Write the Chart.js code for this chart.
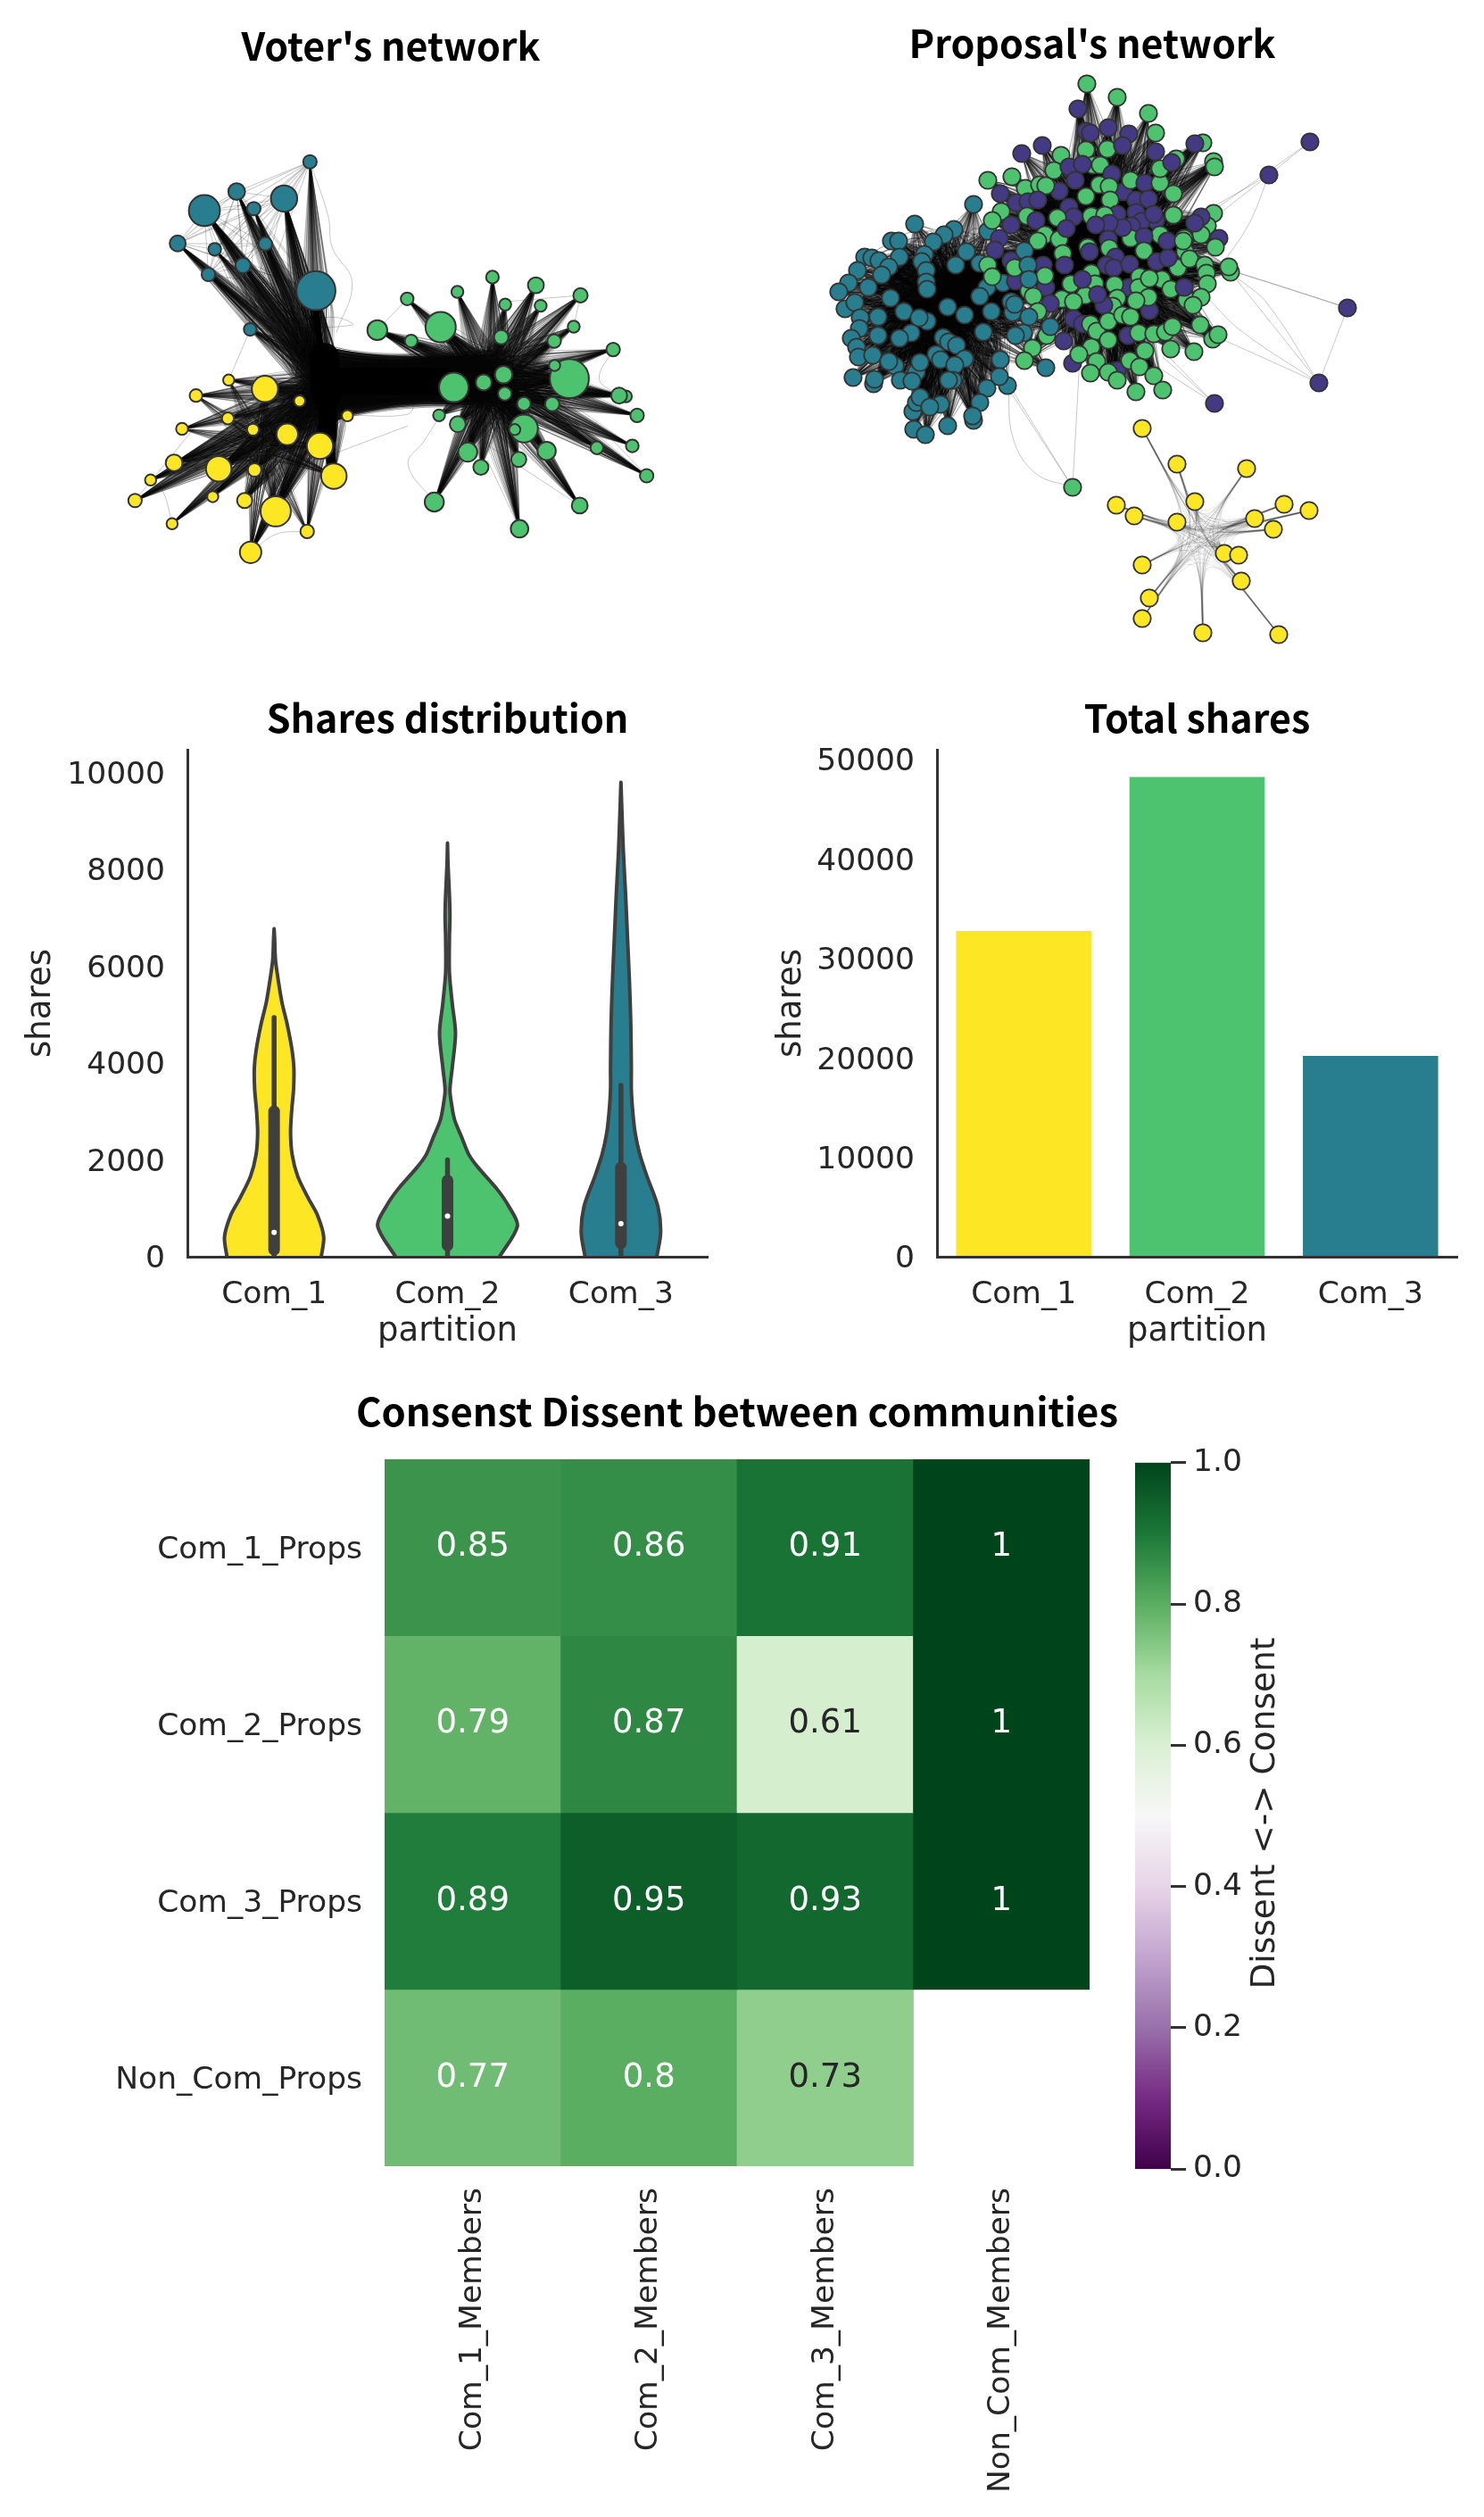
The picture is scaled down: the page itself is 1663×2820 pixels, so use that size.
<!DOCTYPE html>
<html>
<head>
<meta charset="utf-8">
<title>Communities</title>
<script src="https://cdn.jsdelivr.net/npm/chart.js@4"></script>
<style>
  html, body { margin: 0; background: #fff; }
  body { position: relative; width: 1663px; height: 2820px; overflow: hidden; }
  canvas { position: absolute; }
</style>
</head>
<body>
<canvas id="voterNet" style="left:100px;top:0" width="676" height="680"></canvas>
<canvas id="propNet" style="left:900px;top:0" width="648" height="740"></canvas>
<canvas id="violin" style="left:0;top:760px" width="800" height="760"></canvas>
<canvas id="bars" style="left:830px;top:760px" width="811" height="760"></canvas>
<canvas id="heat" style="left:100px;top:1540px" width="1452" height="1280"></canvas>
<canvas id="cbar" style="left:1272px;top:1610px" width="208" height="849"></canvas>

<script>
// ---- data ----
const partitions = ["Com_1", "Com_2", "Com_3"];
const totalShares = [32760, 48250, 20190];
const violinTicks = [0, 2000, 4000, 6000, 8000, 10000];
const totalTicks = [0, 10000, 20000, 30000, 40000, 50000];
const cbarTicks = [0, 0.2, 0.4, 0.6, 0.8, 1];

const violinShares = [
  [0, 411, 858, 1215, 1662, 2109, 2556, 3003, 3450, 3897, 4254, 4790, 5237, 5684, 6131, 6578, 6774],
  [0, 635, 1037, 1394, 1841, 2109, 2467, 2824, 3182, 3450, 3897, 4612, 5237, 5863, 6578, 7024, 7471, 8097, 8544],
  [0, 500, 1037, 1662, 2109, 2556, 3003, 3450, 3897, 4790, 5684, 6578, 7471, 8365, 9259, 9795]
];
const violinDensity = [
  [.272, .286, .25, .196, .136, .104, .095, .101, .112, .114, .104, .076, .046, .025, .008, .003, 0],
  [.3, .403, .354, .286, .177, .123, .082, .041, .022, .014, .027, .046, .027, .011, .011, .014, .011, .003, 0],
  [.207, .229, .213, .15, .109, .082, .068, .06, .06, .057, .049, .038, .027, .014, .005, 0]
];
const whiskers = [[0, 4942], [0, 2000], [0, 3540]];
const quartiles = [[143, 3003], [232, 1573], [277, 1841]];
const medians = [500, 840, 680];

const heatRowLabels = ["Com_1_Props", "Com_2_Props", "Com_3_Props", "Non_Com_Props"];
const heatColLabels = ["Com_1_Members", "Com_2_Members", "Com_3_Members", "Non_Com_Members"];
const heatValues = [
  [0.85, 0.86, 0.91, 1],
  [0.79, 0.87, 0.61, 1],
  [0.89, 0.95, 0.93, 1],
  [0.77, 0.8, 0.73, null]
];

// voter layout: x, y, size
const voterCom3 = [[554,418,17],[370,495,21],[489,513,33],[289,544,39],[413,539,17],[222,629,20],[315,644,16],[442,630,17],[386,686,19],[299,709,17],[569,751,49],[404,851,16]];
const voterCom2 = [[798,772,16],[924,754,15],[1012,716,16],[1121,737,20],[1044,787,15],[1133,790,15],[1233,763,18],[1216,844,15],[723,853,25],[808,881,16],[882,845,38],[1034,871,18],[1167,881,17],[1315,903,17],[1205,978,49],[1168,944,14],[915,1001,37],[990,988,20],[1040,968,22],[1043,1017,17],[1347,1024,15],[1330,1022,20],[1091,1043,17],[1162,1044,18],[1375,1073,17],[878,1073,15],[925,1096,20],[1091,1107,35],[1068,1110,14],[950,1168,24],[1148,1165,23],[1078,1187,19],[983,1207,19],[1274,1157,16],[1363,1152,16],[1399,1229,17],[866,1297,24],[1231,1306,20],[1080,1366,22]];
const voterCom1 = [[350,982,14],[441,1005,33],[268,1022,16],[528,1036,14],[648,1074,14],[348,1081,15],[411,1110,15],[233,1108,15],[497,1122,27],[579,1152,33],[213,1196,21],[325,1211,32],[415,1214,17],[614,1230,32],[154,1240,14],[115,1293,17],[310,1283,14],[390,1293,19],[468,1321,38],[208,1353,14],[547,1373,17],[405,1427,27]];
const voterHubs = { com1: [600, 1020], com2: [1020, 985], com3: [585, 950], com1Inner: [440, 1140] };
// the heaviest bundles, with their stroke weight
const voterStems = [[[600,985],[890,985]], [[590,925],[595,1015]], [[600,1000],[598,1130]], [[598,1100],[608,1205]], [[569,800],[578,880],[590,940]]];
const voterStemWeights = [30, 34, 20, 11, 7];
const voterThinEdges = [
  [[650,1073],[800,1070],[810,1040],[700,1030]], [[620,1170],[800,1100]], [[866,1297],[800,1200],[840,1140],[880,1075]],
  [[866,1297],[925,1180]], [[1231,1306],[1000,1150]], [[1080,1366],[1030,1120]], [[1080,1366],[1000,1190]],
  [[1399,1229],[1170,1100]], [[1399,1229],[1270,1090]], [[1363,1152],[1100,1000]],
  [[554,418],[600,560],[610,640],[660,730],[620,860]], [[554,418],[570,700]], [[404,851],[660,840],[620,820],[500,830]],
  [[350,982],[404,851]], [[115,1293],[268,1100]], [[208,1353],[185,1270],[154,1240]], [[547,1373],[470,1380],[405,1427]],
  [[1233,763],[1040,780]], [[1315,903],[1280,980],[1330,1020]], [[1233,763],[1216,844]], [[798,772],[882,845]], [[798,772],[723,853]]
];

// proposal layout: x, y
const propTeal = [[1091,229],[1025,251],[1069,257],[1058,263],[1046,271],[999,270],[1007,270],[969,288],[977,289],[985,292],[1008,288],[1036,285],[1083,282],[1033,293],[996,299],[988,308],[961,303],[1071,297],[1098,295],[1107,259],[1038,303],[1038,316],[1039,324],[951,317],[940,327],[973,322],[1106,322],[1124,317],[1098,332],[998,334],[947,346],[958,339],[1062,344],[1013,349],[1081,353],[1111,349],[1039,360],[1030,356],[964,356],[984,355],[963,368],[1102,372],[984,376],[1021,373],[1008,379],[954,379],[1057,378],[1063,383],[1072,387],[960,389],[962,400],[978,398],[1003,410],[996,405],[1049,397],[1054,403],[1081,402],[1070,409],[1027,417],[1031,406],[1121,403],[1129,432],[1120,422],[956,423],[979,430],[980,425],[1009,426],[1022,427],[1068,426],[1063,426],[1106,435],[1023,461],[1027,451],[1031,445],[1054,453],[1042,456],[1098,451],[1091,471],[1090,466],[1062,477],[1024,481],[1037,487]];
const propTealTop = [[1148,281],[1152,297],[1153,313],[1133,338],[1135,350],[1137,341],[1153,355],[1147,373],[1138,376],[1177,366],[1172,412]];
const propGreen = [[1218,94],[1252,109],[1287,127],[1295,149],[1217,168],[1241,167],[1189,174],[1225,185],[1233,185],[1181,191],[1134,198],[1107,202],[1149,211],[1165,207],[1172,208],[1217,220],[1267,202],[1232,207],[1243,209],[1244,224],[1300,205],[1300,189],[1122,237],[1112,247],[1151,242],[1185,244],[1223,242],[1238,241],[1171,263],[1163,270],[1187,268],[1267,267],[1300,263],[1348,160],[1360,181],[1361,187],[1318,178],[1315,217],[1315,241],[1360,239],[1353,253],[1346,263],[1327,267],[1191,284],[1219,277],[1243,278],[1282,281],[1328,282],[1320,300],[1302,313],[1312,324],[1330,336],[1223,306],[1227,318],[1200,318],[1216,331],[1190,335],[1203,338],[1249,319],[1252,334],[1247,343],[1277,310],[1276,322],[1288,312],[1287,333],[1273,337],[1137,300],[1171,309],[1153,326],[1158,332],[1163,349],[1222,363],[1229,371],[1242,360],[1258,353],[1267,355],[1276,373],[1293,374],[1306,372],[1314,366],[1312,391],[1242,381],[1223,389],[1209,397],[1283,393],[1266,404],[1277,411],[1293,421],[1303,437],[1273,439],[1229,405],[1222,418],[1242,417],[1252,426],[1157,390],[1148,404],[1173,376],[1326,270],[1362,277],[1333,290],[1350,297],[1352,306],[1379,305],[1377,299],[1353,318],[1346,333],[1337,342],[1345,364],[1359,380],[1365,375],[1338,394],[1107,297],[1112,310]];
const propPurple = [[1208,122],[1242,143],[1217,147],[1222,149],[1265,150],[1168,163],[1145,172],[1258,163],[1295,170],[1198,187],[1213,184],[1205,202],[1246,195],[1187,214],[1121,217],[1259,215],[1283,205],[1139,227],[1152,226],[1163,224],[1273,224],[1287,223],[1198,232],[1203,243],[1133,252],[1161,247],[1252,240],[1273,238],[1295,247],[1279,248],[1268,253],[1258,255],[1243,250],[1228,252],[1195,256],[1120,267],[1282,265],[1242,268],[1339,161],[1313,182],[1293,240],[1346,243],[1339,250],[1366,267],[1221,282],[1250,288],[1240,297],[1248,300],[1266,296],[1296,293],[1309,289],[1169,297],[1193,297],[1133,292],[1138,315],[1172,322],[1213,313],[1265,322],[1288,348],[1327,322],[1237,342],[1203,357],[1177,340],[1264,376],[1192,382],[1202,407],[1252,415],[1213,363],[1230,330],[1308,270],[1115,280]];
const propFarPurple = [[1468,159],[1422,196],[1510,345],[1478,429],[1361,452]];
const propFarGreen = [[1202,546]];
const propYellow = [[1280,480],[1319,520],[1397,525],[1251,566],[1271,578],[1339,562],[1319,585],[1439,565],[1467,572],[1406,581],[1427,593],[1372,620],[1388,622],[1280,633],[1391,651],[1288,670],[1280,693],[1348,709],[1433,711]];
const propHubs = { teal: [1066, 325], main: [1230, 285], yellow: [1345, 600] };
const propThinEdges = [
  [[1468,159],[1422,196]], [[1468,159],[1340,250]], [[1422,196],[1330,268]], [[1422,196],[1345,240]], [[1422,196],[1400,250],[1372,293]],
  [[1510,345],[1379,303]], [[1510,345],[1440,322],[1379,303]], [[1510,345],[1478,429]], [[1478,429],[1379,305]],
  [[1478,429],[1420,340],[1385,310]], [[1478,429],[1390,370],[1350,330]], [[1478,429],[1365,378]],
  [[1361,452],[1310,400]], [[1361,452],[1303,400]], [[1361,452],[1280,400]],
  [[1202,546],[1160,530],[1135,490],[1130,430]], [[1202,546],[1130,430]], [[1202,546],[1120,420]], [[1202,546],[1210,400]]
];
const partnerOffsets = [3, 5, 7, 11, 13, 17, 23, 29, 37, 41, 53, 61, 71, 83, 97, 109, 131, 149, 167, 191, 211, 239, 277, 307];

// ---- colours and fonts ----
const YELLOW = "#fde725", GREEN = "#4ec36f", TEAL = "#287d8e", PURPLE = "#443983";
const INK = "#262626", SPINE = "#333333", VIOLIN_LINE = "#3f3f3f";
const TICK_FONT = { family: "DejaVu Sans", size: 34.5 };
// same font, used with a blank first line to sit the label a few px lower on its tick
const LOW_TICK_FONT = { family: "DejaVu Sans", size: 34.5, lineHeight: .2 };
const LABEL_FONT = { family: "DejaVu Sans", size: 37 };
const TITLE_FONT = { family: "Noto Sans CJK JP", size: 43, weight: "700" };
const PRGN = ["#40004b", "#762a83", "#9970ab", "#c2a5cf", "#e7d4e8", "#f7f7f7", "#d9f0d3", "#a6dba0", "#5aae61", "#1b7837", "#00441b"];

function prgn(v) {
  let pos = v * (PRGN.length - 1);
  let i = Math.min(Math.floor(pos), PRGN.length - 2);
  let t = pos - i;
  let a = PRGN[i], b = PRGN[i + 1];
  let ch = (c, k) => parseInt(c.substr(1 + k * 2, 2), 16);
  return "rgb(" + [0, 1, 2].map(k => Math.round(ch(a, k) + (ch(b, k) - ch(a, k)) * t)).join(",") + ")";
}

function baseOptions() {
  return {
    responsive: false,
    devicePixelRatio: 1,
    animation: false,
    events: [],
    layout: { autoPadding: false, padding: 0 },
    plugins: { legend: { display: false }, tooltip: { enabled: false } }
  };
}

function titleOpts(text, top, bottom) {
  return { display: true, text: text, color: "#000", font: TITLE_FONT, fullSize: false, padding: { top: top, bottom: bottom } };
}

// ---- network edges ----
function mix(h, a, ka, b, kb) {
  return { x: h[0] + (a[0] - h[0]) * ka + b[0] * kb, y: h[1] + (a[1] - h[1]) * ka + b[1] * kb };
}
function pt(a) { return { x: a[0], y: a[1] }; }

// route an edge a-b through the bundle hubs of the two nodes
function bundled(a, ha, b, hb, near, far, fanNear, fanFar) {
  let da = [a[0] - ha[0], a[1] - ha[1]], db = [b[0] - hb[0], b[1] - hb[1]];
  if (ha === hb) {
    return [pt(a), mix(ha, a, near, db, fanNear), mix(hb, b, near, da, fanNear), pt(b)];
  }
  return [pt(a), mix(ha, a, near, db, fanNear), mix(ha, a, far, db, fanFar), mix(hb, b, far, da, fanFar), mix(hb, b, near, da, fanNear), pt(b)];
}

function makeLayers(n) {
  let out = [];
  for (let i = 0; i < n; i++) out.push([]);
  return out;
}
function addEdge(layers, path, copies, idx) {
  for (let c = 0; c < copies; c++) {
    let l = layers[(idx + c * 7) % layers.length];
    path.forEach(p => l.push(p));
    l.push({ x: NaN, y: NaN });
  }
}
function edgeDatasets(layers, color, width, tension) {
  return layers.map(data => ({
    data: data, showLine: true, pointRadius: 0, pointHitRadius: 0,
    borderColor: color, borderWidth: width, tension: tension, capBezierPoints: false
  }));
}
function thinDatasets(edges, color, width) {
  return edges.map(e => ({
    data: e.map(pt), showLine: true, pointRadius: 0, pointHitRadius: 0,
    borderColor: color, borderWidth: width, tension: .4
  }));
}

// ---- voter's network ----
(function () {
  let layers = makeLayers(24), n = 0;
  let weight = (a, b) => Math.min(5, Math.max(1, Math.round(a[2] * b[2] / 250)));
  let cross = (as, ha, bs, hb) => as.forEach(a => bs.forEach(b => {
    addEdge(layers, bundled(a, ha, b, hb, .3, .05, .1, .13), weight(a, b), n++);
  }));
  cross(voterCom3, voterHubs.com3, voterCom2, voterHubs.com2);
  cross(voterCom1, voterHubs.com1, voterCom2, voterHubs.com2);
  cross(voterCom3, voterHubs.com3, voterCom1, voterHubs.com1);
  voterCom2.forEach((a, i) => voterCom2.slice(i + 1).forEach(b => {
    addEdge(layers, bundled(a, voterHubs.com2, b, voterHubs.com2, .2, 0, .12, 0), weight(a, b), n++);
  }));
  voterCom1.forEach((a, i) => voterCom1.slice(i + 1).forEach(b => {
    addEdge(layers, bundled(a, voterHubs.com1Inner, b, voterHubs.com1Inner, .2, 0, .12, 0), weight(a, b), n++);
  }));
  voterCom3.forEach((a, i) => voterCom3.slice(i + 1).forEach(b => {
    addEdge(layers, [pt(a), pt(b)], 1, n++);
  }));

  let nodes = voterCom3.concat(voterCom2, voterCom1);
  let colors = voterCom3.map(() => TEAL).concat(voterCom2.map(() => GREEN), voterCom1.map(() => YELLOW));
  let stems = voterStems.map((s, i) => ({
    data: s.map(pt), showLine: true, pointRadius: 0, pointHitRadius: 0,
    borderColor: "#000", borderWidth: voterStemWeights[i], borderCapStyle: "round", tension: .3
  }));
  let opts = baseOptions();
  opts.plugins.title = titleOpts("Voter's network", 26, 2.4);
  opts.scales = {
    x: { type: "linear", display: false, min: 0, max: 1514 },
    y: { type: "linear", display: false, reverse: true, min: 184.5, max: 1568 }
  };
  new Chart(document.getElementById("voterNet"), {
    type: "scatter",
    data: {
      datasets: [{
        data: nodes.map(pt), clip: false,
        pointRadius: nodes.map(v => v[2] / 2.24), pointBackgroundColor: colors,
        pointBorderColor: SPINE, pointBorderWidth: 2
      }].concat(
        stems,
        thinDatasets(voterThinEdges, "rgba(0,0,0,.22)", 1),
        edgeDatasets(layers, "rgba(0,0,0,.2)", 1.1, .35)
      )
    },
    options: opts
  });
})();

// ---- proposal's network ----
(function () {
  let layers = makeLayers(24), yellowLayers = makeLayers(10), n = 0;
  let main = [];
  for (let i = 0; i < Math.max(propGreen.length, propPurple.length); i++) {
    if (propGreen[i]) main.push(propGreen[i]);
    if (propPurple[i]) main.push(propPurple[i]);
  }
  let tealAll = propTeal.concat(propTealTop);
  let linked = tealAll.map(a => [a, propHubs.teal]).concat(main.map(a => [a, propHubs.main]));
  linked.forEach((item, i) => partnerOffsets.forEach(off => {
    let other = linked[(i + off) % linked.length];
    addEdge(layers, bundled(item[0], item[1], other[0], other[1], .35, .15, .28, .15), 1, n++);
  }));
  propYellow.forEach((a, i) => propYellow.slice(i + 1).forEach(b => {
    addEdge(yellowLayers, bundled(a, propHubs.yellow, b, propHubs.yellow, .3, 0, .06, 0), 1, n++);
  }));

  let nodes = propTeal.concat(main, propTealTop, propFarPurple, propFarGreen, propYellow);
  let colorOf = new Map();
  propTeal.concat(propTealTop).forEach(v => colorOf.set(v, TEAL));
  propGreen.concat(propFarGreen).forEach(v => colorOf.set(v, GREEN));
  propPurple.concat(propFarPurple).forEach(v => colorOf.set(v, PURPLE));
  propYellow.forEach(v => colorOf.set(v, YELLOW));

  let opts = baseOptions();
  opts.plugins.title = titleOpts("Proposal's network", 22.8, 1.6);
  opts.scales = {
    x: { type: "linear", display: false, min: 900, max: 1548 },
    y: { type: "linear", display: false, reverse: true, min: 76, max: 740 }
  };
  new Chart(document.getElementById("propNet"), {
    type: "scatter",
    data: {
      datasets: [{
        data: nodes.map(pt), clip: false,
        pointRadius: 9.7, pointBackgroundColor: nodes.map(v => colorOf.get(v)),
        pointBorderColor: SPINE, pointBorderWidth: 1.8
      }].concat(
        thinDatasets(propThinEdges, "rgba(0,0,0,.22)", 1),
        edgeDatasets(yellowLayers, "rgba(0,0,0,.15)", .7, .4),
        edgeDatasets(layers, "rgba(0,0,0,.3)", 1.2, .3)
      )
    },
    options: opts
  });
})();

// ---- shared axis bits for the two share panels ----
function shareAxes(yMax, tickValues, yWidth, yTitlePad) {
  return {
    y: {
      type: "linear", min: 0, max: yMax,
      afterFit: s => { s.width = yWidth; },
      afterBuildTicks: s => { s.ticks = tickValues.map(v => ({ value: v })); },
      grid: { display: false, drawTicks: false },
      border: { display: true, width: 3, color: SPINE, z: 1 },
      ticks: { padding: 25, color: INK, font: LOW_TICK_FONT, callback: v => ["", String(v)] },
      title: { display: true, text: "shares", color: INK, font: LABEL_FONT, padding: { top: yTitlePad, bottom: 0 } }
    }
  };
}
function xAxisBits(s) {
  s.afterFit = a => { a.height = 112; };
  s.grid = { display: false, drawTicks: false };
  s.border = { display: true, width: 3, color: SPINE, z: 1 };
  s.title = { display: true, text: "partition", color: INK, font: LABEL_FONT, padding: { top: 0, bottom: 5 } };
  return s;
}

// ---- violin panel ----
(function () {
  let colors = [YELLOW, GREEN, TEAL];
  let line = (i, pair, width) => ({
    data: pair.map(v => ({ x: i, y: v })), showLine: true, pointRadius: 0,
    borderColor: VIOLIN_LINE, borderWidth: width, borderCapStyle: "round"
  });
  let sets = [{
    data: medians.map((v, i) => ({ x: i, y: v })),
    pointRadius: 3, pointBackgroundColor: "#fff", pointBorderWidth: 0
  }];
  quartiles.forEach((q, i) => sets.push(line(i, q, 13)));
  whiskers.forEach((w, i) => sets.push(line(i, w, 5.5)));
  violinShares.forEach((ys, i) => {
    let left = ys.map((v, k) => ({ x: i - violinDensity[i][k], y: v }));
    let right = ys.map((v, k) => ({ x: i + violinDensity[i][k], y: v })).reverse();
    sets.push({
      data: left.concat(right), showLine: true, pointRadius: 0, fill: "shape",
      backgroundColor: colors[i], borderColor: VIOLIN_LINE, borderWidth: 4,
      borderJoinStyle: "round", tension: .3
    });
  });
  let opts = baseOptions();
  opts.layout.padding = { right: 7 };
  opts.plugins.title = titleOpts("Shares distribution", 19, 9.4);
  opts.scales = shareAxes(10470, violinTicks, 210, 24);
  opts.scales.x = xAxisBits({
    type: "linear", min: -.5, max: 2.5,
    afterBuildTicks: s => { s.ticks = partitions.map((p, i) => ({ value: i })); },
    ticks: { padding: 22, color: INK, font: TICK_FONT, callback: v => partitions[v] }
  });
  new Chart(document.getElementById("violin"), { type: "scatter", data: { datasets: sets }, options: opts });
})();

// ---- total shares panel ----
(function () {
  let opts = baseOptions();
  opts.layout.padding = { right: 8 };
  opts.plugins.title = titleOpts("Total shares", 19, 9.4);
  opts.scales = shareAxes(50990, totalTicks, 220, 35);
  opts.scales.x = xAxisBits({
    type: "category",
    ticks: { padding: 22, color: INK, font: TICK_FONT, maxRotation: 0 }
  });
  new Chart(document.getElementById("bars"), {
    type: "bar",
    data: {
      labels: partitions,
      datasets: [{ data: totalShares, backgroundColor: [YELLOW, GREEN, TEAL], barPercentage: .78, categoryPercentage: 1 }]
    },
    options: opts
  });
})();

// ---- heatmap ----
(function () {
  const cellText = {
    id: "cellText",
    afterDatasetsDraw(chart) {
      let { ctx, scales } = chart;
      ctx.save();
      ctx.font = "37px 'DejaVu Sans'";
      ctx.textAlign = "center";
      ctx.textBaseline = "middle";
      heatValues.forEach((row, r) => row.forEach((v, c) => {
        if (v === null) return;
        ctx.fillStyle = v > 0.75 ? "#fff" : INK;
        ctx.fillText(String(v), scales.x.getPixelForValue(c), scales.y.getPixelForValue(r + .5));
      }));
      ctx.restore();
    }
  };
  let opts = baseOptions();
  // full-width title, kept centred by the spare axis on the right
  opts.plugins.title = { display: true, text: "Consenst Dissent between communities", color: "#000", font: { family: TITLE_FONT.family, size: 43.6, weight: "700" }, padding: { top: 14.8, bottom: 27.6 } };
  opts.scales = {
    x: {
      type: "category", stacked: true,
      afterFit: s => { s.height = 393; },
      grid: { display: false, drawTicks: false }, border: { display: false },
      ticks: { minRotation: 90, maxRotation: 90, padding: 24, autoSkip: false, color: INK, font: TICK_FONT }
    },
    y: {
      type: "linear", stacked: true, reverse: true, min: 0, max: 4,
      afterFit: s => { s.width = 331; },
      afterBuildTicks: s => { s.ticks = heatRowLabels.map((l, i) => ({ value: i + .5 })); },
      grid: { display: false, drawTicks: false }, border: { display: false },
      ticks: { padding: 25, color: INK, font: LOW_TICK_FONT, callback: v => ["", heatRowLabels[v - .5]] }
    },
    spare: {
      type: "linear", position: "right", min: 0, max: 1,
      afterFit: s => { s.width = 331; },
      grid: { display: false, drawTicks: false }, border: { display: false },
      ticks: { display: false }
    }
  };
  new Chart(document.getElementById("heat"), {
    type: "bar",
    data: {
      labels: heatColLabels,
      datasets: heatValues.map(row => ({
        data: row.map(v => (v === null ? null : 1)),
        backgroundColor: row.map(v => (v === null ? "transparent" : prgn(v))),
        barPercentage: 1, categoryPercentage: 1
      }))
    },
    options: opts,
    plugins: [cellText]
  });
})();

// ---- colour bar ----
(function () {
  const cbarLabel = {
    id: "cbarLabel",
    afterDraw(chart) {
      let { ctx, chartArea } = chart;
      ctx.save();
      ctx.translate(146, (chartArea.top + chartArea.bottom) / 2 - 3);
      ctx.rotate(-Math.PI / 2);
      ctx.font = "37.5px 'DejaVu Sans'";
      ctx.fillStyle = INK;
      ctx.textAlign = "center";
      ctx.textBaseline = "middle";
      ctx.fillText("Dissent <-> Consent", 0, 0);
      ctx.restore();
    }
  };
  let fillBar = ctx => {
    let area = ctx.chart.chartArea;
    if (!area) return PRGN[5];
    let g = ctx.chart.ctx.createLinearGradient(0, area.bottom, 0, area.top);
    PRGN.forEach((c, i) => g.addColorStop(i / (PRGN.length - 1), c));
    return g;
  };
  let opts = baseOptions();
  opts.layout.padding = { top: 24, bottom: 14 };
  opts.scales = {
    x: { type: "category", display: false },
    y: {
      type: "linear", position: "right", min: 0, max: 1,
      afterFit: s => { s.width = 168; },
      afterBuildTicks: s => { s.ticks = cbarTicks.map(v => ({ value: v })); },
      grid: { drawOnChartArea: false, drawTicks: true, tickLength: 17, tickWidth: 3, tickColor: SPINE },
      border: { display: false },
      ticks: { padding: 8, color: INK, font: TICK_FONT, callback: v => v.toFixed(1) }
    }
  };
  new Chart(document.getElementById("cbar"), {
    type: "bar",
    data: { labels: ["cbar"], datasets: [{ data: [[0, 1]], backgroundColor: fillBar, barPercentage: 1, categoryPercentage: 1 }] },
    options: opts,
    plugins: [cbarLabel]
  });
})();
</script>
</body>
</html>
